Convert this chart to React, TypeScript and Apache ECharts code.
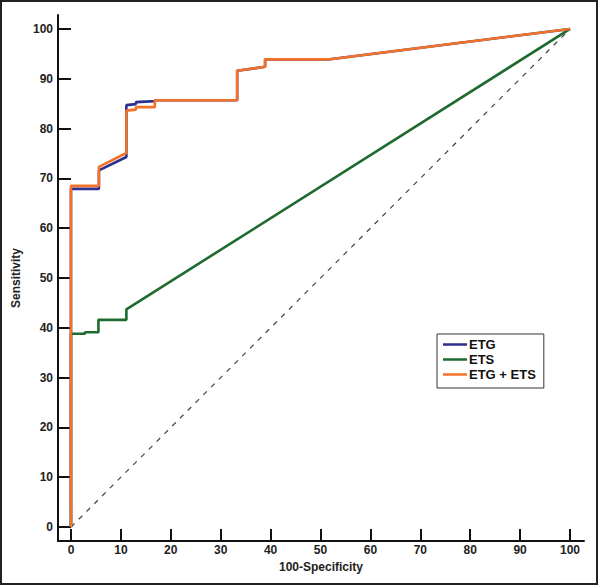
import React, { useEffect, useRef } from "react";
import * as echarts from "echarts";

const seriesNames = ["ETG", "ETS", "ETG + ETS"];
const seriesColors = ["#2b2f8f", "#1f6a2e", "#f3722a"];

// [100-Specificity, Sensitivity]
const etgPoints: [number, number][] = [
  [0, 0], [0, 67.9], [5.6, 67.9], [5.6, 71.6], [11.1, 74.3], [11.1, 84.7],
  [13, 84.9], [13, 85.3], [16.8, 85.5], [16.8, 85.7], [33.3, 85.7], [33.3, 91.6],
  [38.9, 92.4], [38.9, 93.9], [51.9, 93.9], [100, 100],
];
const etsPoints: [number, number][] = [
  [0, 0], [0, 38.8], [2.8, 38.8], [2.8, 39.1], [5.5, 39.1], [5.5, 41.6],
  [11.1, 41.6], [11.1, 43.7], [100, 100],
];
const combinedPoints: [number, number][] = [
  [0, 0], [0, 68.5], [5.6, 68.5], [5.6, 72.3], [11.1, 75.1], [11.1, 83.6],
  [13, 83.8], [13, 84.3], [16.8, 84.3], [16.8, 85.7], [33.3, 85.7], [33.3, 91.6],
  [38.9, 92.4], [38.9, 93.9], [51.9, 93.9], [100, 100],
];
const diagonalPoints: [number, number][] = [[0, 0], [100, 100]];

const xTicks = [0, 10, 20, 30, 40, 50, 60, 70, 80, 90, 100];
const yTicks = [0, 10, 20, 30, 40, 50, 60, 70, 80, 90, 100];

const FONT = "'Liberation Sans', Arial, sans-serif";

export default function App() {
  const ref = useRef<HTMLDivElement>(null);
  useEffect(() => {
    if (!ref.current) return;
    const chart = echarts.init(ref.current, null, { renderer: "svg" });
    const lineSeries = (name: string, data: [number, number][], color: string, z: number) => ({
      name,
      type: "line",
      data,
      symbol: "none",
      z,
      lineStyle: { color, width: 2.6 },
      itemStyle: { color },
    });
    chart.setOption({
      animation: false,
      backgroundColor: "#ffffff",
      textStyle: { fontFamily: FONT },
      grid: { left: 58, right: 14, top: 15, bottom: 45 },
      xAxis: {
        type: "value",
        min: -2.6,
        max: 102.8,
        name: "100-Specificity",
        nameLocation: "middle",
        nameGap: 20,
        nameTextStyle: { fontFamily: FONT, fontWeight: "bold", fontSize: 12, color: "#222" },
        splitLine: { show: false },
        axisLine: { show: true, onZero: false, lineStyle: { color: "#111", width: 2 } },
        axisTick: { show: true, inside: true, length: 12, customValues: xTicks, lineStyle: { color: "#111", width: 2 } },
        axisLabel: { customValues: xTicks, margin: 3, fontFamily: FONT, fontWeight: "bold", fontSize: 12, color: "#222" },
      },
      yAxis: {
        type: "value",
        min: -2.8,
        max: 102.8,
        name: "Sensitivity",
        nameLocation: "middle",
        nameGap: 34,
        nameRotate: 90,
        nameTextStyle: { fontFamily: FONT, fontWeight: "bold", fontSize: 12, color: "#222" },
        splitLine: { show: false },
        axisLine: { show: true, onZero: false, lineStyle: { color: "#111", width: 2 } },
        axisTick: { show: true, inside: true, length: 13, customValues: yTicks, lineStyle: { color: "#111", width: 2 } },
        axisLabel: { customValues: yTicks, margin: 5, fontFamily: FONT, fontWeight: "bold", fontSize: 12, color: "#222" },
      },
      legend: {
        data: seriesNames,
        orient: "vertical",
        left: 437,
        top: 334,
        icon: "rect",
        itemWidth: 24,
        itemHeight: 2.5,
        itemGap: 2,
        padding: [4, 8, 7, 6],
        borderColor: "#333",
        borderWidth: 1,
        backgroundColor: "#fff",
        textStyle: { fontFamily: FONT, fontWeight: "bold", fontSize: 13, color: "#111", padding: [0, 0, 0, -3] },
      },
      graphic: [
        {
          type: "rect",
          shape: { x: 1, y: 1, width: 596, height: 583 },
          style: { fill: "none", stroke: "#222", lineWidth: 2 },
          silent: true,
        },
      ],
      series: [
        {
          name: "diagonal",
          type: "line",
          data: diagonalPoints,
          symbol: "none",
          z: 1,
          lineStyle: { color: "#444", width: 1.2, type: [5, 6] },
        },
        lineSeries(seriesNames[1], etsPoints, seriesColors[1], 2),
        lineSeries(seriesNames[0], etgPoints, seriesColors[0], 3),
        lineSeries(seriesNames[2], combinedPoints, seriesColors[2], 4),
      ],
    });
    return () => chart.dispose();
  }, []);
  return (
    <div
      ref={ref}
      style={{ position: "fixed", left: 0, top: 0, width: 598, height: 586, background: "#fff" }}
    />
  );
}
